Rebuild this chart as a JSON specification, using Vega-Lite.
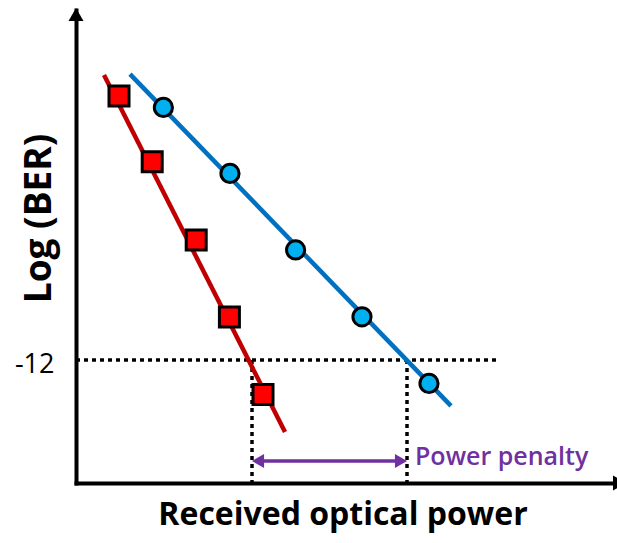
{
  "$schema": "https://vega.github.io/schema/vega-lite/v6.json",
  "width": 541,
  "height": 473,
  "autosize": {"type": "none"},
  "padding": {"left": 76, "top": 10, "right": 0, "bottom": 60},
  "background": "white",
  "config": {"view": {"stroke": null}},
  "datasets": {
    "measured": [
      {"curve": "back-to-back", "power": -27.85, "logber": -3.2},
      {"curve": "back-to-back", "power": -26.19, "logber": -5.39},
      {"curve": "back-to-back", "power": -23.99, "logber": -8.0},
      {"curve": "back-to-back", "power": -22.33, "logber": -10.57},
      {"curve": "back-to-back", "power": -20.65, "logber": -13.15},
      {"curve": "after transmission", "power": -25.63, "logber": -3.58},
      {"curve": "after transmission", "power": -22.3, "logber": -5.78},
      {"curve": "after transmission", "power": -19.02, "logber": -8.33},
      {"curve": "after transmission", "power": -15.7, "logber": -10.56},
      {"curve": "after transmission", "power": -12.35, "logber": -12.78}
    ],
    "fits": [
      {"curve": "back-to-back", "power": -28.6, "logber": -2.5},
      {"curve": "back-to-back", "power": -19.55, "logber": -14.4},
      {"curve": "after transmission", "power": -27.3, "logber": -2.47},
      {"curve": "after transmission", "power": -11.25, "logber": -13.53}
    ],
    "guides": [
      {"power": -30, "power2": -8.8, "logber": -12, "logber2": -12},
      {"power": -21.2, "power2": -21.2, "logber": -12, "logber2": -16.233},
      {"power": -13.45, "power2": -13.45, "logber": -12, "logber2": -16.233}
    ],
    "penalty": [
      {"power": -21.2, "power2": -13.45, "logber": -15.367, "label": "Power penalty"}
    ],
    "axisArrows": [
      {"power": -30, "logber": -0.483, "dir": "up"},
      {"power": -2.825, "logber": -16.1, "dir": "right"}
    ]
  },
  "encoding": {
    "x": {
      "field": "power",
      "type": "quantitative",
      "scale": {"domain": [-30, -2.95], "nice": false, "zero": false},
      "axis": {
        "title": "Received optical power",
        "domain": true,
        "domainColor": "black",
        "domainWidth": 4,
        "domainCap": "square",
        "ticks": false,
        "labels": false,
        "grid": false,
        "titleFont": "Open Sans",
        "titleFontSize": 32,
        "titleFontWeight": "bold",
        "titleColor": "black",
        "titlePadding": 16,
        "titleX": 266.5
      }
    },
    "y": {
      "field": "logber",
      "type": "quantitative",
      "scale": {"domain": [-16.1, -0.3333], "nice": false, "zero": false},
      "axis": {
        "title": "Log (BER)",
        "values": [-12],
        "labelExpr": "toString(datum.value)",
        "domain": true,
        "domainColor": "black",
        "domainWidth": 4,
        "domainCap": "square",
        "ticks": false,
        "grid": false,
        "labelFont": "Open Sans",
        "labelFontSize": 27,
        "labelColor": "black",
        "labelPadding": 22,
        "labelOffset": 4,
        "titleFont": "Open Sans",
        "titleFontSize": 37,
        "titleFontWeight": "bold",
        "titleColor": "black",
        "titleX": -26,
        "titleY": 208,
        "titleBaseline": "alphabetic",
        "titleAngle": -90,
        "titleAlign": "center"
      }
    }
  },
  "layer": [
    {
      "data": {"name": "guides"},
      "mark": {"type": "rule", "strokeDash": [4, 4], "strokeWidth": 3.5, "color": "black"},
      "encoding": {"x2": {"field": "power2"}, "y2": {"field": "logber2"}}
    },
    {
      "data": {"name": "fits"},
      "mark": {"type": "line", "strokeWidth": 4.5},
      "encoding": {
        "color": {
          "field": "curve",
          "type": "nominal",
          "scale": {"domain": ["back-to-back", "after transmission"], "range": ["#C00000", "#0070C0"]},
          "legend": null
        }
      }
    },
    {
      "data": {"name": "measured"},
      "transform": [{"filter": "datum.curve == 'back-to-back'"}],
      "mark": {"type": "point", "shape": "square", "filled": true, "fill": "#FF0000", "stroke": "black", "strokeWidth": 3, "size": 400, "opacity": 1}
    },
    {
      "data": {"name": "measured"},
      "transform": [{"filter": "datum.curve == 'after transmission'"}],
      "mark": {"type": "point", "shape": "circle", "filled": true, "fill": "#00B0F0", "stroke": "black", "strokeWidth": 3, "size": 330, "opacity": 1}
    },
    {
      "data": {"name": "penalty"},
      "mark": {"type": "rule", "color": "#7030A0", "strokeWidth": 3.5, "xOffset": 8, "x2Offset": -8},
      "encoding": {"x2": {"field": "power2"}}
    },
    {
      "data": {"name": "penalty"},
      "mark": {"type": "point", "shape": "triangle-left", "filled": true, "color": "#7030A0", "size": 196, "opacity": 1, "xOffset": 6}
    },
    {
      "data": {"name": "penalty"},
      "mark": {"type": "point", "shape": "triangle-right", "filled": true, "color": "#7030A0", "size": 196, "opacity": 1, "xOffset": -6},
      "encoding": {"x": {"field": "power2", "type": "quantitative"}}
    },
    {
      "data": {"name": "penalty"},
      "mark": {"type": "text", "align": "left", "baseline": "middle", "dx": 8, "dy": -4, "font": "Open Sans", "fontSize": 25, "fontWeight": 600, "color": "#7030A0"},
      "encoding": {"x": {"field": "power2", "type": "quantitative"}, "text": {"field": "label"}}
    },
    {
      "data": {"name": "axisArrows"},
      "mark": {"type": "point", "filled": true, "color": "black", "size": 225, "opacity": 1},
      "encoding": {
        "shape": {
          "field": "dir",
          "type": "nominal",
          "scale": {"domain": ["up", "right"], "range": ["triangle-up", "triangle-right"]},
          "legend": null
        }
      }
    }
  ]
}
